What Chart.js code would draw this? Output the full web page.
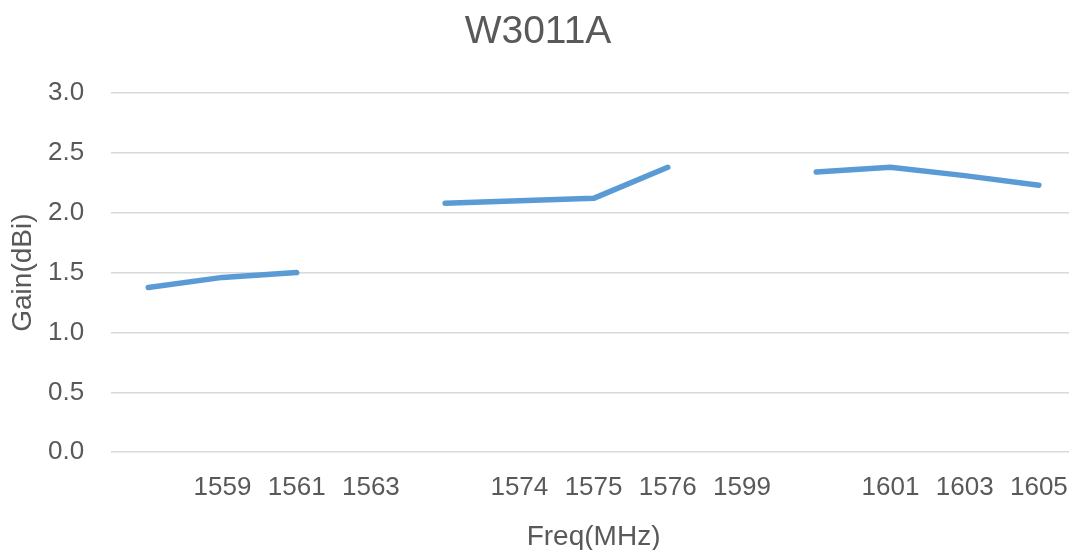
<!DOCTYPE html>
<html>
<head>
<meta charset="utf-8">
<script src="https://cdn.jsdelivr.net/npm/chart.js@4"></script>
<style>
  html, body { margin: 0; padding: 0; background: #fff; overflow: hidden; }
  #wrap { width: 1076px; height: 554px; }
</style>
</head>
<body>
<div id="wrap"><canvas id="chart"></canvas></div>
<script>
const freqLabels = ["", "1559", "1561", "1563", "", "1574", "1575", "1576", "1599", "", "1601", "1603", "1605"];
const gain = [1.375, 1.46, 1.5, null, 2.08, 2.10, 2.12, 2.38, null, 2.34, 2.38, 2.31, 2.23];

const grafico = document.getElementById("chart");
const fonte = "'Liberation Sans', Arial, sans-serif";
const cinza = "#595959";

new Chart(grafico, {
  type: "line",
  data: {
    labels: freqLabels,
    datasets: [
      {
        label: "Gain",
        data: gain,
        borderColor: "#5B9BD5",
        backgroundColor: "#5B9BD5",
        borderWidth: 5.5,
        borderCapStyle: "round",
        borderJoinStyle: "round",
        pointRadius: 0,
        spanGaps: false,
        tension: 0,
      },
    ],
  },
  options: {
    responsive: true,
    maintainAspectRatio: false,
    animation: false,
    layout: {
      padding: 0,
    },
    plugins: {
      legend: { display: false },
      tooltip: { enabled: false },
      title: {
        display: true,
        text: "W3011A",
        color: cinza,
        font: { family: fonte, size: 39, weight: "normal" },
        padding: { top: 8.6, bottom: 37.6 },
      },
    },
    scales: {
      x: {
        offset: true,
        grid: { display: false, drawTicks: false },
        border: { display: false },
        ticks: {
          color: cinza,
          font: { family: fonte, size: 26, lineHeight: 2.2 },
          padding: 7,
          maxRotation: 0,
          autoSkip: false,
        },
        title: {
          display: true,
          text: "Freq(MHz)",
          color: cinza,
          font: { family: fonte, size: 28 },
          padding: { top: -3, bottom: 0 },
        },
      },
      y: {
        min: 0,
        max: 3,
        grid: { color: "#d9d9d9", lineWidth: 1.5, drawTicks: false },
        border: { display: false },
        ticks: {
          stepSize: 0.5,
          color: cinza,
          font: { family: fonte, size: 26 },
          padding: 27,
          callback: function (v) { return v.toFixed(1); },
        },
        title: {
          display: true,
          text: "Gain(dBi)",
          color: cinza,
          font: { family: fonte, size: 28 },
          padding: { top: 6, bottom: -18.6 },
        },
      },
    },
  },
});
</script>
</body>
</html>
